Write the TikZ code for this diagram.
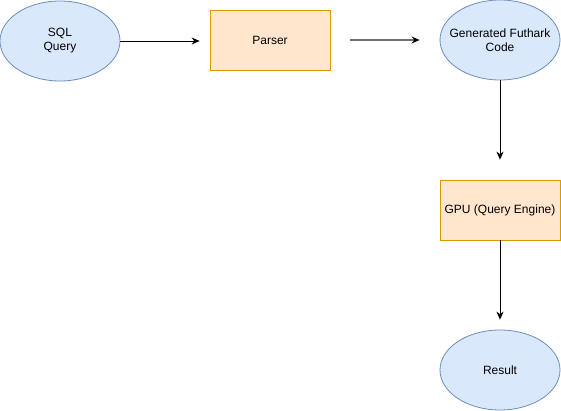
\documentclass[tikz,border=0pt]{standalone}
\usepackage{fontspec}
\setmainfont{Liberation Sans}
\usepackage{xcolor}
\usepackage{tikz}
\usetikzlibrary{arrows.meta}
\usetikzlibrary{positioning}
\usetikzlibrary{shapes.geometric}
\definecolor{azulfondo}{HTML}{DAE8FC}
\definecolor{azulborde}{HTML}{6C8EBF}
\definecolor{naranjafondo}{HTML}{FFE6CC}
\definecolor{naranjaborde}{HTML}{D79B00}
\definecolor{grisflecha}{HTML}{707070}

\begin{document}
\begin{tikzpicture}[x=1pt,y=-1pt,
    elipse/.style={ellipse,draw=azulborde,fill=azulfondo,line width=0.8pt,minimum width=120pt,minimum height=80pt,inner xsep=-20pt,inner ysep=-10pt,align=center,font=\fontsize{12}{14}\selectfont},
    caja/.style={rectangle,draw=naranjaborde,fill=naranjafondo,line width=0.8pt,minimum width=120pt,minimum height=60pt,inner sep=0pt,align=center,font=\fontsize{12}{14}\selectfont},
    flecha/.style={-{Stealth[length=8pt,width=7pt,black]},line width=0.8pt}]
        \useasboundingbox (0,0) rectangle (561,411);
        
        % Nodos
        \node[elipse] (sql) at (60,41) {SQL\\Query};
        \node[caja] (parser) at (270,40) {Parser};
        \node[elipse] (gen) at (500,40) {Generated Futhark\\Code};
        \node[caja] (gpu) at (500,210) {GPU (Query Engine)};
        \node[elipse] (result) at (500,370) {Result};
        
        % Conexiones
        \draw[flecha] (sql.east) -- ([xshift=-10pt]parser.west |- sql.east);
        \draw[flecha,grisflecha,line width=1.4pt] ([xshift=20pt]parser.east) -- ([xshift=-20pt]gen.west);
        \draw[flecha] (gen.south) -- ([yshift=20pt]gpu.north);
        \draw[flecha] (gpu.south) -- ([yshift=10pt]result.north);
    \end{tikzpicture}
\end{document}
